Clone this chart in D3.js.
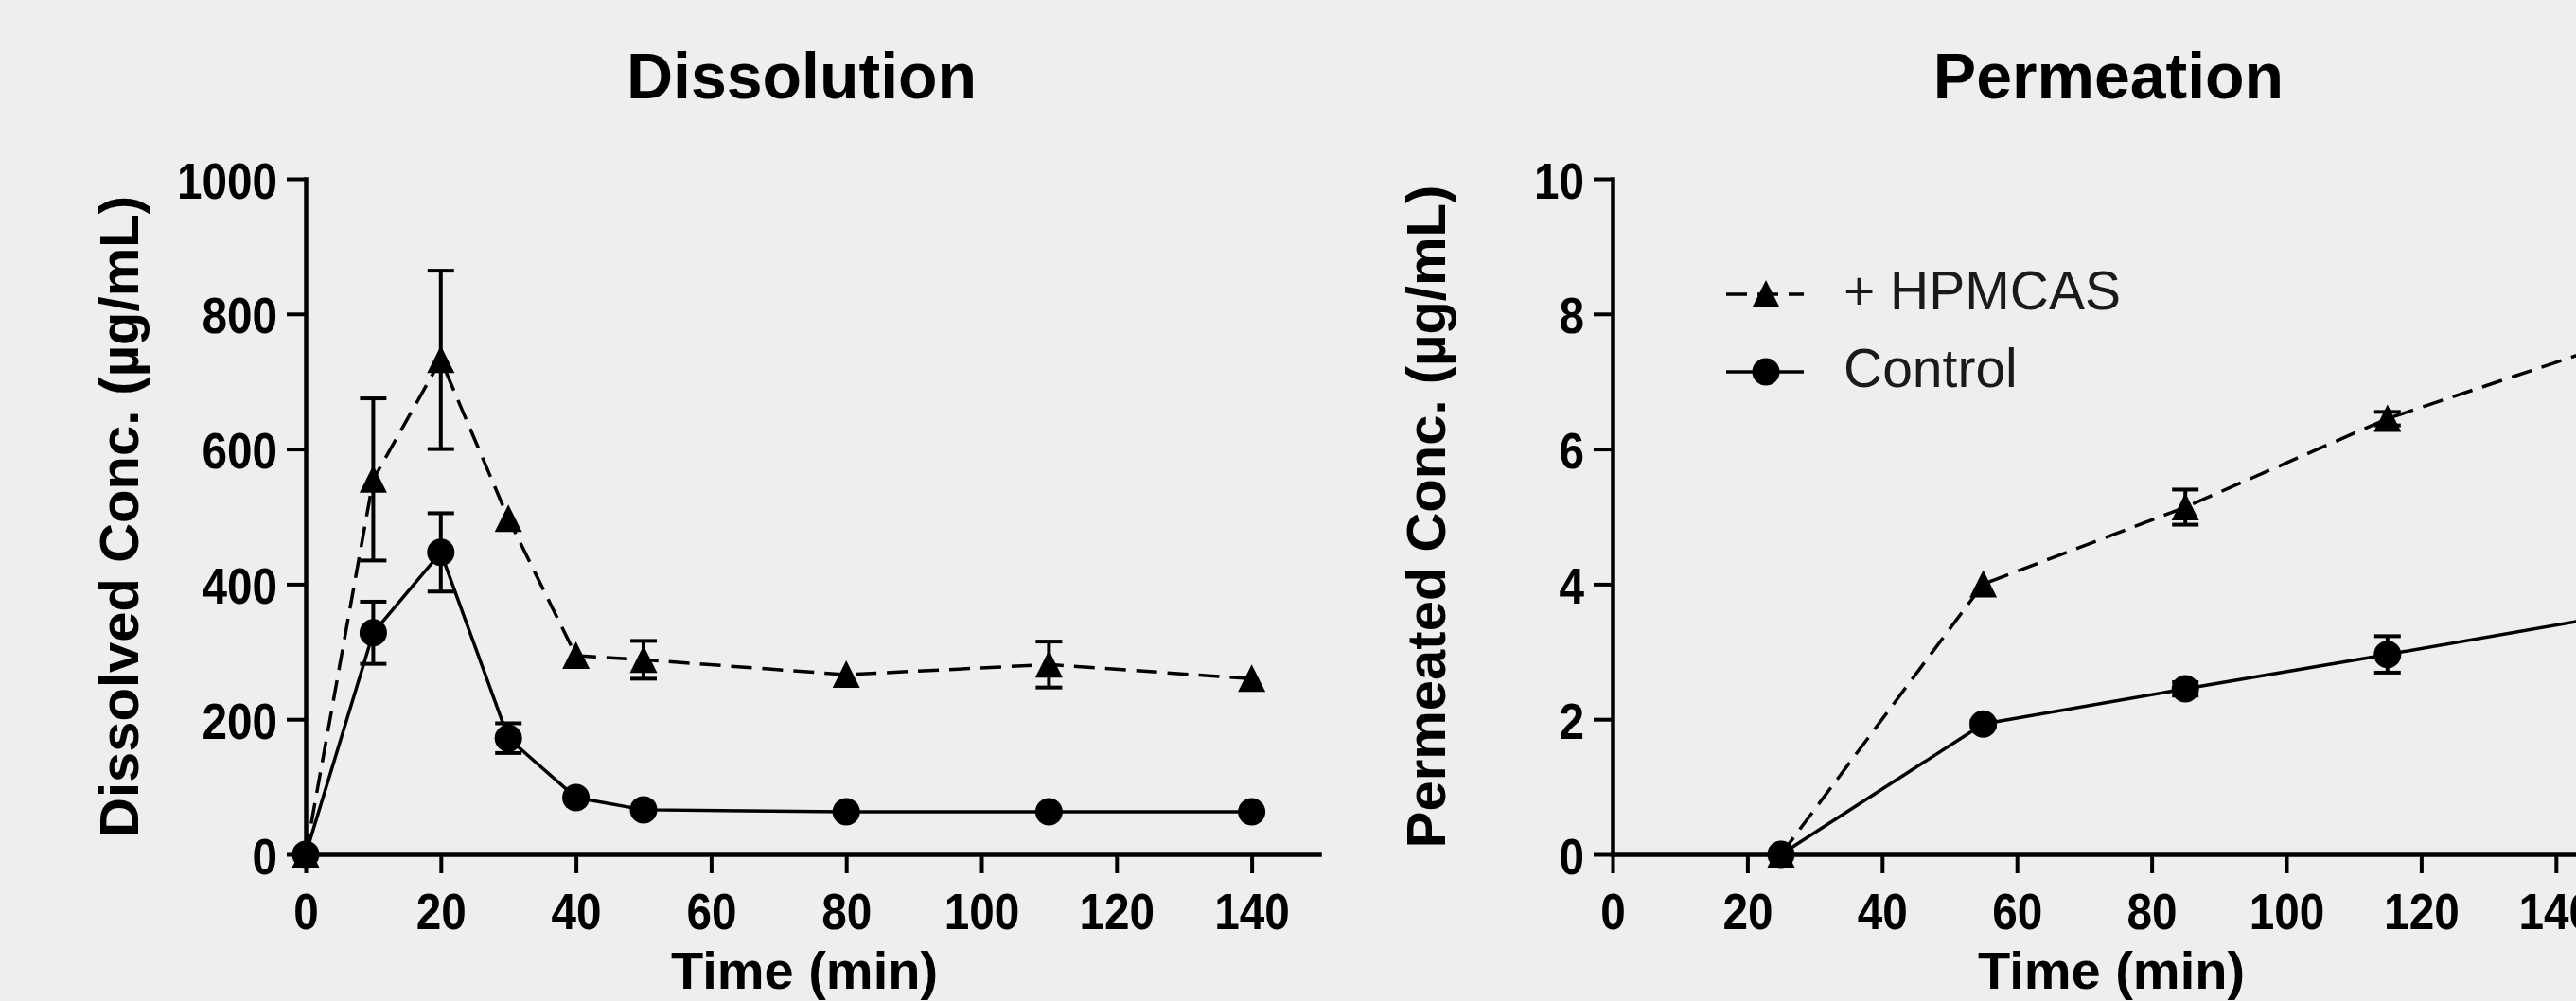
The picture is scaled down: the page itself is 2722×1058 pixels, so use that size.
<!DOCTYPE html>
<html lang="en">
<head>
  <meta charset='utf-8'>
  <title>Dissolution / Permeation</title>

  <style>
    html, body {
      margin: 0;
      padding: 0;
      background-color: #eeeeee;
      overflow: hidden;
    }

    /* SVG container style */
    svg {
      display: block;
      background-color: #eeeeee;
    }

    text {
      font-family: "Liberation Sans", Arial, sans-serif;
      fill: #000;
    }
  </style>
</head>

<body>
  <div id="chart"></div>
</body>

<script src="https://d3js.org/d3.v7.min.js"></script>

<script>

  ////////////////////////////////////////////////// DATA

  // Dissolution (ug/mL) vs time (min)
  var dissTime          = [0, 10, 20, 30, 40, 50, 80, 110, 140];
  var dissHpmcas        = [0, 555, 732, 497, 294, 288, 266, 281, 260];
  var dissHpmcasErr     = [0, 120, 132, 0, 0, 28, 0, 34, 0];
  var dissControl       = [0, 328, 447, 172, 84, 66, 63, 63, 63];
  var dissControlErr    = [0, 46, 58, 22, 0, 0, 0, 0, 0];

  // Permeation (ug/mL) vs time (min)
  var permTime          = [25, 55, 85, 115, 145];
  var permHpmcas        = [0, 4.0, 5.14, 6.45, 7.45];
  var permHpmcasErr     = [0, 0, 0.26, 0.1, 0.3];
  var permControl       = [0, 1.93, 2.45, 2.96, 3.48];
  var permControlErr    = [0, 0.05, 0.1, 0.27, 0.25];

  // ticks and labels
  var xTicks            = [0, 20, 40, 60, 80, 100, 120, 140];
  var yTicksDiss        = [0, 200, 400, 600, 800, 1000];
  var yTicksPerm        = [0, 2, 4, 6, 8, 10];
  var seriesNames       = ["+ HPMCAS", "Control"];

  ////////////////////////////////////////////////// INIT VARS

  var width      = 2722;
  var height     = 1058;

  var plotTop    = 189;
  var plotBottom = 903;
  var xMax       = 150;

  var markerHalf = 14;
  var dashStyle  = "22,11";
  var tickSqueeze = 0.9;   // tick digits in the original are a bit narrow

  var panels = [
    {
      title:  "Dissolution",
      yLabel: "Dissolved Conc. (\u00b5g/mL)",
      left:   323,
      plotWidth: 1071,
      yMax:   1000,
      yTicks: yTicksDiss,
      time:   dissTime,
      series: [
        { values: dissHpmcas,  errors: dissHpmcasErr,  dashed: true,  marker: "triangle" },
        { values: dissControl, errors: dissControlErr, dashed: false, marker: "circle" }
      ],
      legend: false
    },
    {
      title:  "Permeation",
      yLabel: "Permeated Conc. (\u00b5g/mL)",
      left:   1704,
      plotWidth: 1068,
      yMax:   10,
      yTicks: yTicksPerm,
      time:   permTime,
      series: [
        { values: permHpmcas,  errors: permHpmcasErr,  dashed: true,  marker: "triangle" },
        { values: permControl, errors: permControlErr, dashed: false, marker: "circle" }
      ],
      legend: true
    }
  ];

  ////////////////////////////////////////////////// SETUP

  var svg = d3.select("#chart")
              .append("svg")
              .attr("width", width)
              .attr("height", height);

  panels.forEach(drawPanel);

  ////////////////////////////////////////////////////////////////////////////////////////////////////
  ////////////////////////////////////////////////// FUNCTIONS

  function drawPanel(p) {
    var x = d3.scaleLinear().domain([0, xMax]).range([p.left, p.left + p.plotWidth]);
    var y = d3.scaleLinear().domain([0, p.yMax]).range([plotBottom, plotTop]);

    var g = svg.append("g");

    // axes
    var xAxis = g.append("g")
                 .attr("transform", "translate(0," + plotBottom + ")")
                 .call(d3.axisBottom(x)
                         .tickValues(xTicks)
                         .tickSize(20)
                         .tickSizeOuter(0)
                         .tickPadding(21)
                         .tickFormat(d3.format("d")));

    var yAxis = g.append("g")
                 .attr("transform", "translate(" + p.left + ",0)")
                 .call(d3.axisLeft(y)
                         .tickValues(p.yTicks)
                         .tickSize(20)
                         .tickSizeOuter(0)
                         .tickPadding(10)
                         .tickFormat(d3.format("d")));

    styleAxis(xAxis);
    styleAxis(yAxis);
    yAxis.selectAll(".tick text")
         .attr("dy", "0.38em")
         .attr("x", -30 / tickSqueeze);

    // title
    g.append("text")
     .attr("x", p.left + 524)
     .attr("y", 104)
     .attr("text-anchor", "middle")
     .style("font-size", "68px")
     .style("font-weight", "bold")
     .text(p.title);

    // x axis label
    g.append("text")
     .attr("x", p.left + 527)
     .attr("y", 1045)
     .attr("text-anchor", "middle")
     .style("font-size", "56px")
     .style("font-weight", "bold")
     .text("Time (min)");

    // y axis label
    g.append("text")
     .attr("transform", "translate(" + (p.left - 177) + "," + ((plotTop + plotBottom) / 2) + ") rotate(-90)")
     .attr("text-anchor", "middle")
     .style("font-size", "58px")
     .style("font-weight", "bold")
     .text(p.yLabel);

    // series: lines, error bars, markers
    p.series.forEach(function(s) {
      var pts = p.time.map(function(t, i) { return { t: t, v: s.values[i], e: s.errors[i] }; });

      var line = d3.line()
                   .x(function(d) { return x(d.t); })
                   .y(function(d) { return y(d.v); });

      g.append("path")
       .datum(pts)
       .attr("d", line)
       .attr("fill", "none")
       .attr("stroke", "#000")
       .attr("stroke-width", 3.5)
       .attr("stroke-dasharray", s.dashed ? dashStyle : null);

      var bars = g.append("g")
                  .selectAll("g")
                  .data(pts.filter(function(d) { return d.e > 0; }))
                  .enter()
                  .append("g")
                  .attr("stroke", "#000")
                  .attr("stroke-width", 4);

      bars.append("line")
          .attr("x1", function(d) { return x(d.t); })
          .attr("x2", function(d) { return x(d.t); })
          .attr("y1", function(d) { return y(d.v + d.e); })
          .attr("y2", function(d) { return y(d.v - d.e); });

      bars.append("line")
          .attr("x1", function(d) { return x(d.t) - markerHalf; })
          .attr("x2", function(d) { return x(d.t) + markerHalf; })
          .attr("y1", function(d) { return y(d.v + d.e); })
          .attr("y2", function(d) { return y(d.v + d.e); });

      bars.append("line")
          .attr("x1", function(d) { return x(d.t) - markerHalf; })
          .attr("x2", function(d) { return x(d.t) + markerHalf; })
          .attr("y1", function(d) { return y(d.v - d.e); })
          .attr("y2", function(d) { return y(d.v - d.e); });

      pts.forEach(function(d) {
        appendMarker(g, s.marker, x(d.t), y(d.v));
      });
    });

    if (p.legend) drawLegend(g, p);
  }

  function styleAxis(axis) {
    axis.select(".domain")
        .attr("stroke", "#000")
        .attr("stroke-width", 4.5)
        .attr("stroke-linecap", "square");
    axis.selectAll(".tick line")
        .attr("stroke", "#000")
        .attr("stroke-width", 4);
    axis.selectAll(".tick text")
        .attr("transform", "scale(" + tickSqueeze + ",1)")
        .style("font-size", "53px")
        .style("font-weight", "bold")
        .style("font-family", "'Liberation Sans', Arial, sans-serif")
        .attr("fill", "#000");
  }

  function appendMarker(g, type, cx, cy) {
    if (type === "triangle") {
      var path = d3.path();
      path.moveTo(cx, cy - markerHalf - 1);
      path.lineTo(cx + markerHalf + 0.5, cy + markerHalf);
      path.lineTo(cx - markerHalf - 0.5, cy + markerHalf);
      path.closePath();
      g.append("path")
       .attr("d", path.toString())
       .attr("fill", "#000");
    } else {
      g.append("circle")
       .attr("cx", cx)
       .attr("cy", cy)
       .attr("r", markerHalf + 0.5)
       .attr("fill", "#000");
    }
  }

  // legend, top left of the permeation panel
  function drawLegend(g, p) {
    var lx = p.left + 120;
    var rows = [311, 393];

    p.series.forEach(function(s, i) {
      var ly = rows[i];

      g.append("line")
       .attr("x1", lx)
       .attr("x2", lx + 82)
       .attr("y1", ly)
       .attr("y2", ly)
       .attr("stroke", "#000")
       .attr("stroke-width", 3.5)
       .attr("stroke-dasharray", s.dashed ? dashStyle : null);

      appendMarker(g, s.marker, lx + 42, ly);

      g.append("text")
       .attr("x", lx + 124)
       .attr("y", ly + 16)
       .style("font-size", "57px")
       .style("fill", "#1a1a1a")
       .text(seriesNames[i]);
    });
  }

</script>

</html>
